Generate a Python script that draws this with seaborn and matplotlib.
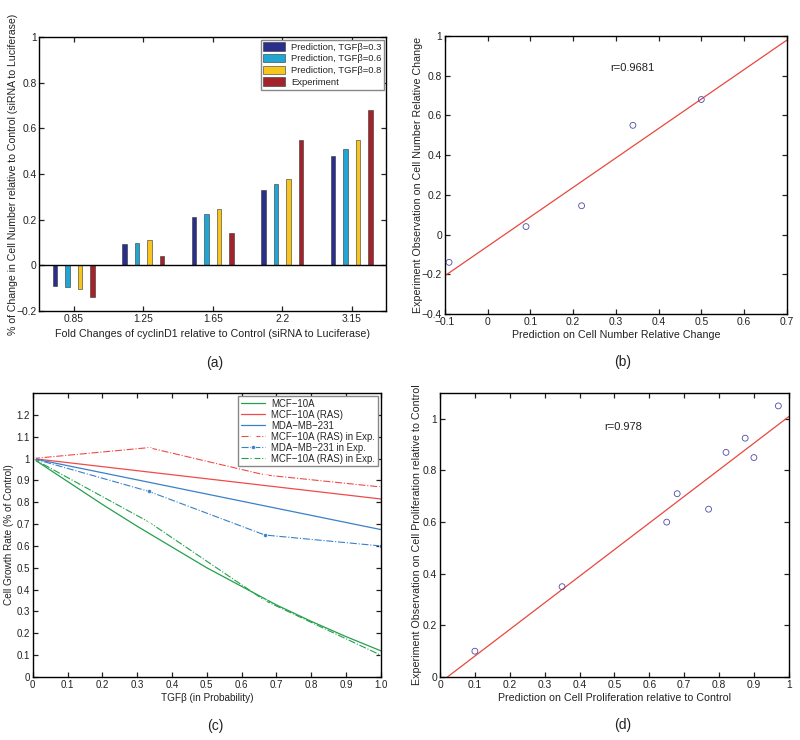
import matplotlib
matplotlib.use("Agg")
import matplotlib.pyplot as plt
from matplotlib.ticker import FuncFormatter, MultipleLocator
import seaborn as sns
import pandas as pd
import numpy as np

# ---------------- data ----------------
# (a)
fold_changes = ["0.85", "1.25", "1.65", "2.2", "3.15"]
series_names = ["Prediction, TGF\u03b2=0.3", "Prediction, TGF\u03b2=0.6",
                "Prediction, TGF\u03b2=0.8", "Experiment"]
pred_03 = [-0.09, 0.095, 0.21, 0.33, 0.48]
pred_06 = [-0.095, 0.10, 0.225, 0.355, 0.51]
pred_08 = [-0.105, 0.11, 0.245, 0.38, 0.55]
experiment = [-0.14, 0.04, 0.14, 0.55, 0.68]
bar_colors = ["#2B2F8C", "#21A6D3", "#F6C61F", "#A2242A"]

# (b)
b_pred = [-0.09, 0.09, 0.22, 0.34, 0.50]
b_exp = [-0.14, 0.04, 0.145, 0.55, 0.68]

# (c)
tgf_model = [0.0, 0.1, 0.2, 0.3, 0.4, 0.5, 0.6, 0.7, 0.8, 0.9, 1.0]
mcf10a_model = [1.0, 0.895, 0.79, 0.69, 0.595, 0.50, 0.415, 0.33, 0.255, 0.185, 0.12]
tgf_lin = [0.0, 1.0]
mcf10a_ras_model = [1.0, 0.815]
mda_model = [1.0, 0.675]
tgf_exp = [0.0, 0.333, 0.667, 1.0]
mcf10a_ras_exp = [1.0, 1.05, 0.925, 0.87]
mda_exp = [1.0, 0.85, 0.65, 0.60]
mcf10a_exp = [1.0, 0.71, 0.35, 0.10]

# (d)
d_pred = [0.10, 0.35, 0.65, 0.68, 0.77, 0.82, 0.875, 0.90, 0.97]
d_exp = [0.10, 0.35, 0.60, 0.71, 0.65, 0.87, 0.925, 0.85, 1.05]

# ---------------- style ----------------
sns.set_theme(style="ticks", rc={
    "xtick.direction": "in", "ytick.direction": "in",
    "xtick.top": True, "ytick.right": True,
    "xtick.major.size": 3.5, "ytick.major.size": 3.5,
    "xtick.major.width": 0.9, "ytick.major.width": 0.9,
    "xtick.major.pad": 2.5, "ytick.major.pad": 2.0,
    "axes.linewidth": 1.0, "axes.edgecolor": "black",
    "xtick.color": "#222222", "ytick.color": "#222222",
    "xtick.labelsize": 7.4, "ytick.labelsize": 7.4,
    "axes.labelsize": 7.7, "axes.labelcolor": "#222222",
})
plt.rcParams["font.family"] = ["Liberation Sans", "DejaVu Sans"]

def fmt(v, _):
    s = f"{v:.10g}"
    if abs(v) < 1e-9:
        s = "0"
    return s.replace("-", "\u2212")

fig = plt.figure(figsize=(8, 7.4), dpi=100)
ax_a = fig.add_axes([0.049, 0.5797, 0.434, 0.370])
ax_b = fig.add_axes([0.556, 0.5757, 0.4275, 0.3757])
ax_c = fig.add_axes([0.041, 0.0851, 0.435, 0.3838])
ax_d = fig.add_axes([0.550, 0.0851, 0.436, 0.3838])

# ---------------- (a) ----------------
df_a = pd.DataFrame({
    "fold": fold_changes * 4,
    "value": pred_03 + pred_06 + pred_08 + experiment,
    "series": sum([[n] * len(fold_changes) for n in series_names], []),
})
sns.barplot(data=df_a, x="fold", y="value", hue="series", order=fold_changes,
            hue_order=series_names, palette=bar_colors, saturation=1, width=0.72, gap=0.64,
            edgecolor="#333333", linewidth=0.4, ax=ax_a, errorbar=None)
ax_a.axhline(0, color="black", lw=1.0, zorder=3)
ax_a.set_xlim(-0.5, 4.5)
ax_a.set_ylim(-0.2, 1.0)
ax_a.yaxis.set_major_locator(MultipleLocator(0.2))
ax_a.yaxis.set_major_formatter(FuncFormatter(fmt))
ax_a.set_xlabel("Fold Changes of cyclinD1 relative to Control (siRNA to Luciferase)", labelpad=3)
ax_a.set_ylabel("% of Change in Cell Number relative to Control (siRNA to Luciferase)", fontsize=7.55)
ax_a.yaxis.set_label_coords(-0.062, 0.5)
sns.move_legend(ax_a, "upper right", title=None, frameon=True, fancybox=False,
                edgecolor="#888888", framealpha=1, fontsize=6.8, handlelength=2.3,
                handleheight=0.95, labelspacing=0.25, borderpad=0.3,
                borderaxespad=0.25, handletextpad=0.6)

# ---------------- (b) ----------------
ax_b.set_xlim(-0.1, 0.7)
sns.regplot(x=b_pred, y=b_exp, scatter=False, ci=None, truncate=False,
            line_kws=dict(color="#E8483F", lw=0.9), ax=ax_b)
sns.scatterplot(x=b_pred, y=b_exp, marker="o", s=18, facecolor="none",
                edgecolor="#4C4CA6", linewidth=0.6, ax=ax_b, zorder=4)
ax_b.set_xlim(-0.1, 0.7)
ax_b.set_ylim(-0.4, 1.0)
ax_b.xaxis.set_major_locator(MultipleLocator(0.1))
ax_b.yaxis.set_major_locator(MultipleLocator(0.2))
ax_b.xaxis.set_major_formatter(FuncFormatter(fmt))
ax_b.yaxis.set_major_formatter(FuncFormatter(fmt))
ax_b.set_xlabel("Prediction on Cell Number Relative Change", labelpad=2)
ax_b.set_ylabel("Experiment Observation on Cell Number Relative Change")
ax_b.yaxis.set_label_coords(-0.064, 0.5)
ax_b.text(0.286, 0.84, "r=0.9681", fontsize=8, va="center", ha="left", color="#222222")

# ---------------- (c) ----------------
green, red, blue = "#23A04C", "#F04A4A", "#3A80C8"
sns.lineplot(x=tgf_model, y=mcf10a_model, color=green, lw=0.9, ax=ax_c, label="MCF\u221210A")
sns.lineplot(x=tgf_lin, y=mcf10a_ras_model, color=red, lw=0.9, ax=ax_c, label="MCF\u221210A (RAS)")
sns.lineplot(x=tgf_lin, y=mda_model, color=blue, lw=0.9, ax=ax_c, label="MDA\u2212MB\u2212231")
sns.lineplot(x=tgf_exp, y=mcf10a_ras_exp, color=red, lw=0.8, linestyle="-.", marker="+",
             markersize=5, markeredgewidth=0.8, ax=ax_c, label="MCF\u221210A (RAS) in Exp.")
sns.lineplot(x=tgf_exp, y=mda_exp, color=blue, lw=0.8, linestyle="-.", marker="o",
             markersize=3, markeredgewidth=0.5, ax=ax_c, label="MDA\u2212MB\u2212231 in Exp.")
sns.lineplot(x=tgf_exp, y=mcf10a_exp, color=green, lw=0.8, linestyle="-.", marker="x",
             markersize=3.5, markeredgewidth=0.8, ax=ax_c, label="MCF\u221210A (RAS) in Exp.")
ax_c.set_xlim(0, 1.0)
ax_c.set_ylim(0, 1.3)
ax_c.set_xticks([0, 0.1, 0.2, 0.3, 0.4, 0.5, 0.6, 0.7, 0.8, 0.9, 1.0])
ax_c.set_xticklabels(["0", "0.1", "0.2", "0.3", "0.4", "0.5", "0.6", "0.7", "0.8", "0.9", "1.0"])
ax_c.set_yticks([0, 0.1, 0.2, 0.3, 0.4, 0.5, 0.6, 0.7, 0.8, 0.9, 1.0, 1.1, 1.2])
ax_c.yaxis.set_major_formatter(FuncFormatter(fmt))
ax_c.tick_params(labelsize=7.0)
ax_c.set_xlabel("TGF\u03b2 (in Probability)", fontsize=7.2, labelpad=2)
ax_c.set_ylabel("Cell Growth Rate (% of Control)", fontsize=7.2)
ax_c.yaxis.set_label_coords(-0.053, 0.5)
ax_c.legend(loc="upper right", frameon=True, fancybox=False, edgecolor="#888888",
            framealpha=1, fontsize=6.9, handlelength=2.6, labelspacing=0.1,
            borderpad=0.3, borderaxespad=0.3, handletextpad=0.6)

# ---------------- (d) ----------------
ax_d.set_xlim(0, 1)
sns.regplot(x=d_pred, y=d_exp, scatter=False, ci=None, truncate=False,
            line_kws=dict(color="#E8483F", lw=0.9), ax=ax_d)
sns.scatterplot(x=d_pred, y=d_exp, marker="o", s=18, facecolor="none",
                edgecolor="#4C4CA6", linewidth=0.6, ax=ax_d, zorder=4)
ax_d.set_xlim(0, 1)
ax_d.set_ylim(0, 1.1)
ax_d.xaxis.set_major_locator(MultipleLocator(0.1))
ax_d.set_yticks([0, 0.2, 0.4, 0.6, 0.8, 1.0])
ax_d.xaxis.set_major_formatter(FuncFormatter(fmt))
ax_d.yaxis.set_major_formatter(FuncFormatter(fmt))
ax_d.set_xlabel("Prediction on Cell Proliferation relative to Control", labelpad=2)
ax_d.set_ylabel("Experiment Observation on Cell Proliferation relative to Control")
ax_d.yaxis.set_label_coords(-0.053, 0.5)
ax_d.text(0.472, 0.97, "r=0.978", fontsize=8, va="center", ha="left", color="#222222")

# panel labels
for lab, x, y in [("(a)", 215, 363), ("(b)", 623, 362), ("(c)", 215, 726), ("(d)", 623, 725)]:
    fig.text(x / 800, 1 - y / 740, lab, ha="center", va="center", fontsize=10, color="#222222")

fig.savefig("out.png", dpi=100)
